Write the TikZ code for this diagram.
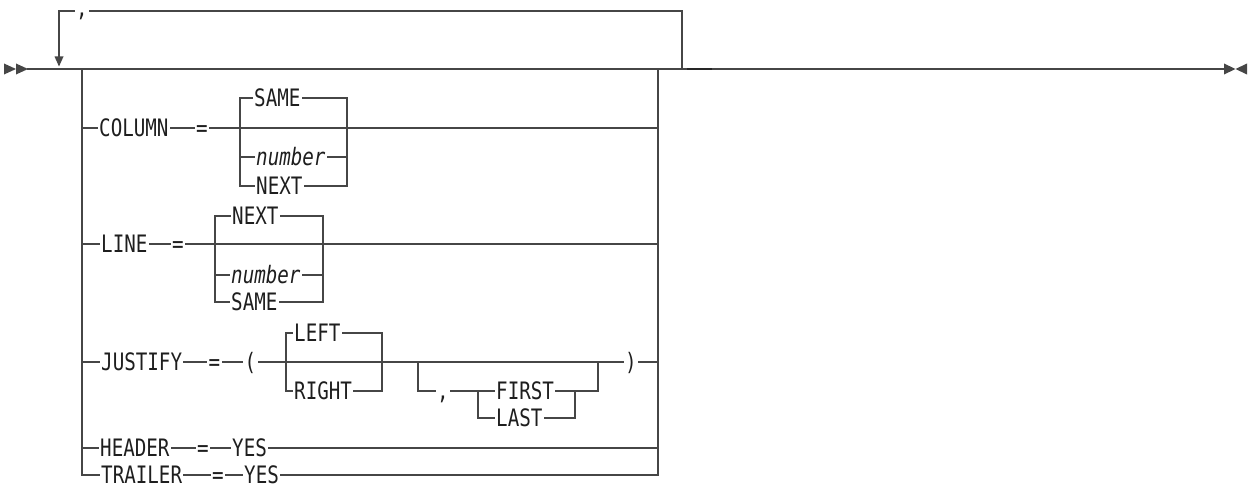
\documentclass[tikz,border=0pt]{standalone}
\usepackage{fontspec}
\newfontfamily\rrfont[FakeStretch=0.8]{DejaVu Sans Mono}
\definecolor{linec}{RGB}{70,70,70}
\definecolor{txtc}{RGB}{30,30,30}
\tikzset{
  rail/.style={draw=linec, line width=1.8pt, line cap=rect},
  lbl/.style={inner xsep=2pt, inner ysep=0pt, text height=19pt, text depth=2pt,
    font=\rrfont\fontsize{24}{26}\selectfont, text=txtc, anchor=west},
  clbl/.style={lbl, anchor=center},
  itl/.style={lbl, font=\rrfont\itshape\fontsize{24}{26}\selectfont},
  tip/.style={fill=linec, draw=none}
}
\begin{document}
\begin{tikzpicture}[x=1pt,y=-1pt]
\useasboundingbox (0,0) rectangle (1252,487);

% ---- main line and end marks
\coordinate (st) at (28,69);
\coordinate (en) at (1224,69);
\draw[rail] (st) -- (en);
\fill[tip] (4,63.5) -- (16,69) -- (4,74.5) -- cycle;
\fill[tip] (16,63.5) -- (28,69) -- (16,74.5) -- cycle;
\fill[tip] (1224,63.5) -- (1235.5,69) -- (1224,74.5) -- cycle;
\fill[tip] (1247,63.5) -- (1235.5,69) -- (1247,74.5) -- cycle;
\coordinate (dk1) at (687,69);
\coordinate (dk2) at (712,69);
\draw[line width=2.2pt, draw=black!85] (dk1) -- (dk2);

% ---- repeat loop
\coordinate (rpL) at (59,58);
\coordinate (rpLT) at (59,11);
\coordinate (rpR) at (682,69);
\coordinate (rpRT) at (682,11);
\node[clbl] (sep) at (82,8) {,};
\draw[rail] (rpR) -- (rpRT) -- (rpRT -| sep.east);
\draw[rail] (rpLT -| sep.west) -- (rpLT) -- (rpL);
\fill[tip] (54.5,56.5) -- (63.5,56.5) -- (59,66.5) -- cycle;

% ---- choice bracket
\coordinate (bL) at (82,69);
\coordinate (bLb) at (82,475);
\coordinate (bR) at (658,69);
\coordinate (bRb) at (658,475);
\draw[rail] (bL) -- (bLb);
\draw[rail] (bR) -- (bRb);

% ---- COLUMN row
\node[lbl] (col) at (97,128) {COLUMN};
\node[clbl] (coleq) at (202,128) {=};
\draw[rail] (bL |- col.west) -- (col.west);
\draw[rail] (col.east) -- (coleq.west);
\draw[rail] (coleq.east) -- (bR |- coleq.east);
\coordinate (cbL) at (240,98);
\coordinate (cbLb) at (240,186);
\coordinate (cbR) at (347,98);
\coordinate (cbRb) at (347,186);
\node[lbl] (csame) at (252,98) {SAME};
\node[itl] (cnum) at (254,157) {number};
\node[lbl] (cnext) at (254,186) {NEXT};
\draw[rail] (csame.west) -- (cbL) -- (cbLb) -- (cnext.west);
\draw[rail] (csame.east) -- (cbR) -- (cbRb) -- (cnext.east);
\draw[rail] (cbL |- cnum.west) -- (cnum.west);
\draw[rail] (cnum.east) -- (cbR |- cnum.east);

% ---- LINE row
\node[lbl] (lin) at (99,244) {LINE};
\node[clbl] (lineq) at (178,244) {=};
\draw[rail] (bL |- lin.west) -- (lin.west);
\draw[rail] (lin.east) -- (lineq.west);
\draw[rail] (lineq.east) -- (bR |- lineq.east);
\coordinate (lbL) at (215,216);
\coordinate (lbLb) at (215,302);
\coordinate (lbR) at (323,216);
\coordinate (lbRb) at (323,302);
\node[lbl] (lnext) at (230,216) {NEXT};
\node[itl] (lnum) at (229,275) {number};
\node[lbl] (lsame) at (229,302) {SAME};
\draw[rail] (lnext.west) -- (lbL) -- (lbLb) -- (lsame.west);
\draw[rail] (lnext.east) -- (lbR) -- (lbRb) -- (lsame.east);
\draw[rail] (lbL |- lnum.west) -- (lnum.west);
\draw[rail] (lnum.east) -- (lbR |- lnum.east);

% ---- JUSTIFY row
\node[lbl] (jus) at (99,362) {JUSTIFY};
\node[clbl] (juseq) at (214.5,362) {=};
\node[clbl] (lpar) at (250.5,362) {(};
\node[clbl] (rpar) at (631,362) {)};
\draw[rail] (bL |- jus.west) -- (jus.west);
\draw[rail] (jus.east) -- (juseq.west);
\draw[rail] (juseq.east) -- (lpar.west);
\draw[rail] (lpar.east) -- (rpar.west);
\draw[rail] (rpar.east) -- (bR |- rpar.east);
\coordinate (jbL) at (286,333);
\coordinate (jbLb) at (286,391);
\coordinate (jbR) at (382,333);
\coordinate (jbRb) at (382,391);
\node[lbl] (left) at (292,333) {LEFT};
\node[lbl] (right) at (292,391) {RIGHT};
\draw[rail] (left.west) -- (jbL) -- (jbLb) -- (right.west);
\draw[rail] (left.east) -- (jbR) -- (jbRb) -- (right.east);
% optional part
\coordinate (oL) at (418,362);
\coordinate (oLb) at (418,391);
\coordinate (oR) at (598,362);
\coordinate (oRb) at (598,391);
\node[clbl] (jcomma) at (443,391) {,};
\coordinate (nL) at (478,391);
\coordinate (nLb) at (478,418);
\coordinate (nR) at (575,391);
\coordinate (nRb) at (575,418);
\node[lbl] (first) at (494,391) {FIRST};
\node[lbl] (last) at (494,418) {LAST};
\draw[rail] (oL) -- (oLb) -- (jcomma.west);
\draw[rail] (jcomma.east) -- (first.west);
\draw[rail] (nL) -- (nLb) -- (last.west);
\draw[rail] (last.east) -- (nRb) -- (nR);
\draw[rail] (first.east) -- (oRb) -- (oR);

% ---- HEADER row
\node[lbl] (hdr) at (98,448) {HEADER};
\node[clbl] (hdreq) at (203,448) {=};
\node[lbl] (hyes) at (230,448) {YES};
\draw[rail] (bL |- hdr.west) -- (hdr.west);
\draw[rail] (hdr.east) -- (hdreq.west);
\draw[rail] (hdreq.east) -- (hyes.west);
\draw[rail] (hyes.east) -- (bR |- hyes.east);

% ---- TRAILER row
\node[lbl] (trl) at (99,475) {TRAILER};
\node[clbl] (trleq) at (218,475) {=};
\node[lbl] (tyes) at (242,475) {YES};
\draw[rail] (bLb) -- (trl.west);
\draw[rail] (trl.east) -- (trleq.west);
\draw[rail] (trleq.east) -- (tyes.west);
\draw[rail] (tyes.east) -- (bRb);
\end{tikzpicture}
\end{document}
